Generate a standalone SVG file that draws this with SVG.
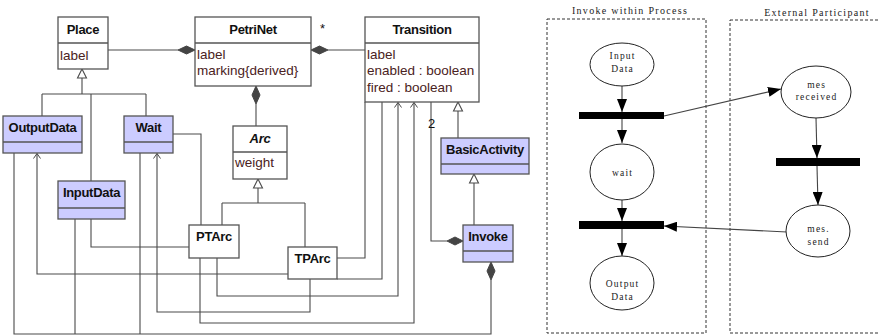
<svg xmlns="http://www.w3.org/2000/svg" width="879" height="336" viewBox="0 0 879 336">
  <defs>
    <style>
      .box { fill: #ffffff; stroke: #555555; stroke-width: 1.3; }
      .boxc { fill: #ccccff; stroke: #555555; stroke-width: 1.3; }
      .div { stroke: #555555; stroke-width: 1.3; fill: none; }
      .cname { font-family: "Liberation Sans", Arial, sans-serif; font-size: 13px; font-weight: bold; fill: #111111; text-anchor: middle; letter-spacing: -0.3px; }
      .attr { font-family: "Liberation Sans", Arial, sans-serif; font-size: 13.5px; fill: #4a2222; }
      .mult { font-family: "Liberation Sans", Arial, sans-serif; font-size: 13px; fill: #111111; }
      .ln { fill: none; stroke: #4a4a4a; stroke-width: 1.1; }
      .gen { fill: #ffffff; stroke: #4a4a4a; stroke-width: 1.1; }
      .dia { fill: #444444; stroke: #444444; stroke-width: 1; }
      .pn { fill: #ffffff; stroke: #222222; stroke-width: 1; }
      .bar { fill: #000000; }
      .pt { font-family: "Liberation Serif", "Times New Roman", serif; font-size: 9.5px; fill: #222222; text-anchor: middle; letter-spacing: 1.2px; }
      .ttl { font-family: "Liberation Serif", "Times New Roman", serif; font-size: 10px; fill: #222222; text-anchor: middle; letter-spacing: 1.3px; }
      .frame { fill: none; stroke: #333333; stroke-width: 1; stroke-dasharray: 3 2; }
      .pa { fill: none; stroke: #444444; stroke-width: 1.1; marker-end: url(#solid); }
    </style>
    <marker id="open" markerWidth="10" markerHeight="10" refX="5" refY="4" orient="auto" markerUnits="userSpaceOnUse" viewBox="0 0 10 8">
      <path d="M0,0.5 L5,4 L0,7.5" fill="none" stroke="#4a4a4a" stroke-width="1"/>
    </marker>
    <marker id="solid" markerWidth="13" markerHeight="10" refX="13" refY="5" orient="auto" markerUnits="userSpaceOnUse" viewBox="0 0 13 10">
      <path d="M0,0 L13,5 L0,10 z" fill="#000000"/>
    </marker>
  </defs>

  <!-- UML connectors -->
  <g id="uml-connectors">
    <!-- generalisations -->
    <path class="ln" d="M82,78 V94 M42,94 H146 M42,94 V116 M91,94 V181 M146,94 V116"/>
    <path class="gen" d="M82,69 L86.5,78 L77.5,78 z"/>
    <path class="ln" d="M258,188 V203 M222,203 H305 M222,203 V225 M305,203 V247"/>
    <path class="gen" d="M258,179 L262.5,188 L253.5,188 z"/>
    <path class="ln" d="M458,111 V138"/>
    <path class="gen" d="M458,102 L462.5,111 L453.5,111 z"/>
    <path class="ln" d="M474,183 V225"/>
    <path class="gen" d="M474,174 L478.5,183 L469.5,183 z"/>

    <!-- compositions -->
    <path class="ln" d="M108,50 H178"/>
    <path class="dia" d="M195,50 L186.5,46 L178,50 L186.5,54 z"/>
    <path class="ln" d="M365,50 H328"/>
    <path class="dia" d="M311,50 L319.5,46 L328,50 L319.5,54 z"/>
    <path class="ln" d="M256,104 V126"/>
    <path class="dia" d="M256,86 L260,95 L256,104 L252,95 z"/>
    <path class="ln" d="M431,102 V241 H447"/>
    <path class="dia" d="M463,241 L455,237 L447,241 L455,245 z"/>
    <path class="ln" d="M491,280 V334 H14 V153 M75,334 V219 M140,334 V153"/>
    <path class="dia" d="M491,262 L495,271 L491,280 L487,271 z"/>

    <!-- associations -->
    <path class="ln" d="M173,134 H201 V225"/>
    <path class="ln" d="M91,219 V247 H189"/>
    <path class="ln" d="M288,274 H37 V153.5" marker-end="url(#open)"/>
    <path class="ln" d="M310,279 V312 H157 V153.5" marker-end="url(#open)"/>
    <path class="ln" d="M200,258 V323 H414 V102.5" marker-end="url(#open)"/>
    <path class="ln" d="M217,258 V296 H398 V102.5" marker-end="url(#open)"/>
    <path class="ln" d="M337,279 H382 V102"/>
    <path class="ln" d="M337,258 H365 V102"/>

    <text class="mult" x="320" y="33">*</text>
    <text class="mult" x="428" y="128">2</text>
  </g>

  <!-- UML classes -->
  <g id="place">
    <rect class="box" x="58" y="17" width="50" height="52"/>
    <line class="div" x1="58" y1="43" x2="108" y2="43"/>
    <text class="cname" x="83" y="34">Place</text>
    <text class="attr" x="60" y="60">label</text>
  </g>
  <g id="petrinet">
    <rect class="box" x="195" y="17" width="116" height="69"/>
    <line class="div" x1="195" y1="43" x2="311" y2="43"/>
    <text class="cname" x="253" y="34">PetriNet</text>
    <text class="attr" x="197" y="59">label</text>
    <text class="attr" x="197" y="75">marking{derived}</text>
  </g>
  <g id="transition">
    <rect class="box" x="365" y="17" width="114" height="85"/>
    <line class="div" x1="365" y1="43" x2="479" y2="43"/>
    <text class="cname" x="422" y="34">Transition</text>
    <text class="attr" x="367" y="59">label</text>
    <text class="attr" x="367" y="75">enabled : boolean</text>
    <text class="attr" x="367" y="92">fired : boolean</text>
  </g>
  <g id="arc">
    <rect class="box" x="233" y="126" width="54" height="53"/>
    <line class="div" x1="233" y1="152" x2="287" y2="152"/>
    <text class="cname" x="260" y="143" font-style="italic">Arc</text>
    <text class="attr" x="235" y="167">weight</text>
  </g>
  <g id="outputdata">
    <rect class="boxc" x="3" y="116" width="79" height="37"/>
    <line class="div" x1="3" y1="142" x2="82" y2="142"/>
    <text class="cname" x="42.5" y="132">OutputData</text>
  </g>
  <g id="wait">
    <rect class="boxc" x="124" y="116" width="49" height="37"/>
    <line class="div" x1="124" y1="142" x2="173" y2="142"/>
    <text class="cname" x="148.5" y="132">Wait</text>
  </g>
  <g id="inputdata">
    <rect class="boxc" x="58" y="181" width="67" height="38"/>
    <line class="div" x1="58" y1="208" x2="125" y2="208"/>
    <text class="cname" x="91.5" y="197">InputData</text>
  </g>
  <g id="ptarc">
    <rect class="box" x="189" y="225" width="50" height="33"/>
    <text class="cname" x="214" y="241">PTArc</text>
  </g>
  <g id="tparc">
    <rect class="box" x="288" y="247" width="49" height="32"/>
    <text class="cname" x="312.5" y="263">TPArc</text>
  </g>
  <g id="basicactivity">
    <rect class="boxc" x="441" y="138" width="88" height="36"/>
    <line class="div" x1="441" y1="164" x2="529" y2="164"/>
    <text class="cname" x="485" y="154">BasicActivity</text>
  </g>
  <g id="invoke">
    <rect class="boxc" x="463" y="225" width="50" height="37"/>
    <line class="div" x1="463" y1="251" x2="513" y2="251"/>
    <text class="cname" x="488" y="241">Invoke</text>
  </g>

  <!-- Petri net: frames -->
  <g id="frame-process">
    <rect class="frame" x="547" y="19" width="159" height="314"/>
    <text class="ttl" x="630" y="14">Invoke within Process</text>
  </g>
  <g id="frame-external">
    <rect class="frame" x="730" y="20" width="160" height="313"/>
    <text class="ttl" x="817" y="16">External Participant</text>
  </g>

  <!-- Petri net connectors -->
  <g id="petri-connectors">
    <path class="pa" d="M622,86 V112"/>
    <path class="pa" d="M622,119 V143"/>
    <path class="pa" d="M622,200 V221"/>
    <path class="pa" d="M622,229 V256"/>
    <path class="pa" d="M816,118 L817,158"/>
    <path class="pa" d="M817,166 L818,205"/>
    <path class="pa" d="M664,116 L781,89"/>
    <path class="pa" d="M787,232 L664,226"/>
  </g>

  <!-- Petri net places and transitions -->
  <g id="p-input">
    <ellipse class="pn" cx="622" cy="64.5" rx="32" ry="21.5"/>
    <text class="pt" x="622.6" y="59">Input</text>
    <text class="pt" x="622.6" y="72">Data</text>
  </g>
  <g id="t-send">
    <rect class="bar" x="579" y="112" width="85" height="7"/>
  </g>
  <g id="p-wait">
    <ellipse class="pn" cx="622" cy="172" rx="32" ry="28"/>
    <text class="pt" x="622.6" y="176" font-size="10">wait</text>
  </g>
  <g id="t-receive">
    <rect class="bar" x="579" y="221" width="85" height="8"/>
  </g>
  <g id="p-output">
    <ellipse class="pn" cx="622" cy="283" rx="32" ry="27"/>
    <text class="pt" x="622.6" y="287">Output</text>
    <text class="pt" x="622.6" y="300">Data</text>
  </g>
  <g id="p-mes-received">
    <ellipse class="pn" cx="816" cy="92" rx="35" ry="26"/>
    <text class="pt" x="816.6" y="88">mes</text>
    <text class="pt" x="816.6" y="100">received</text>
  </g>
  <g id="t-external">
    <rect class="bar" x="776" y="158" width="84" height="8"/>
  </g>
  <g id="p-mes-send">
    <ellipse class="pn" cx="818" cy="231" rx="32" ry="26"/>
    <text class="pt" x="818.6" y="232">mes.</text>
    <text class="pt" x="818.6" y="245">send</text>
  </g>
</svg>
